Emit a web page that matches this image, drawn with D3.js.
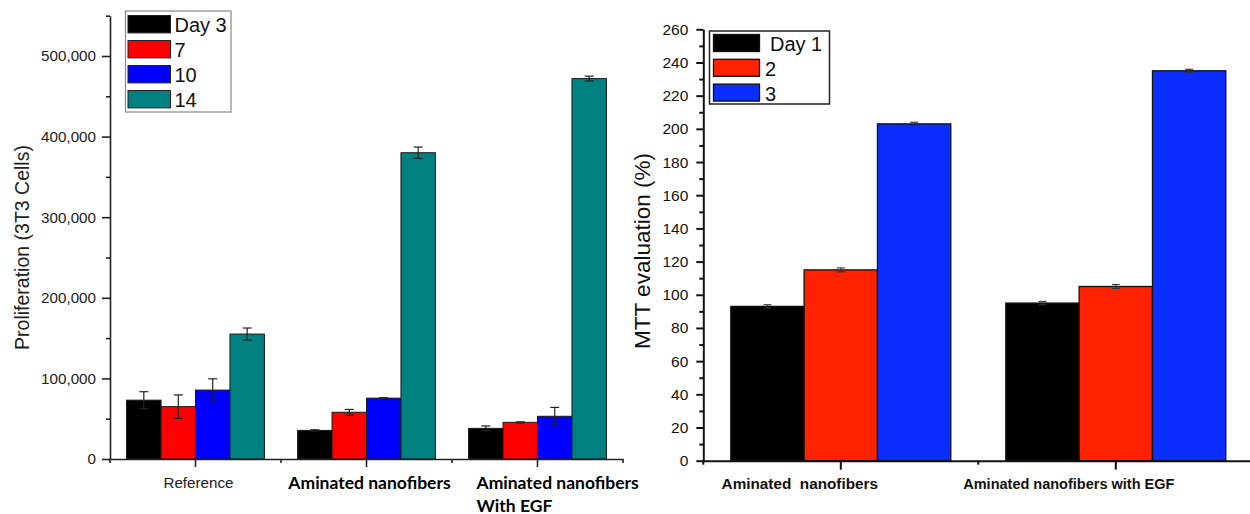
<!DOCTYPE html>
<html>
<head>
<meta charset="utf-8">
<script src="https://cdn.jsdelivr.net/npm/d3@7"></script>
<style>
  html, body { margin: 0; padding: 0; background: #fff; }
  svg { display: block; }
</style>
</head>
<body>
<svg id="chart" width="1250" height="514"></svg>
<script>
// ---------- Left chart data ----------
const leftCategories = ["Reference", "Aminated nanofibers", "Aminated nanofibers With EGF"];
const leftCategoryLines = [["Reference"], ["Aminated nanofibers"], ["Aminated nanofibers", "With EGF"]];
const leftSeries = ["Day 3", "7", "10", "14"];
const leftDay3 = [73000, 35500, 38000];
const leftDay7 = [65000, 58000, 45500];
const leftDay10 = [85500, 75500, 53000];
const leftDay14 = [155000, 380000, 472000];
const leftDay3Err = [10500, 800, 3000];
const leftDay7Err = [14500, 3500, 600];
const leftDay10Err = [14000, 600, 11000];
const leftDay14Err = [7500, 7000, 3000];
const leftYTicks = [0, 100000, 200000, 300000, 400000, 500000];
const leftYMinorTicks = [50000, 150000, 250000, 350000, 450000, 550000];

// ---------- Right chart data ----------
const rightCategories = ["Aminated  nanofibers", "Aminated nanofibers with EGF"];
const rightSeries = ["Day 1", "2", "3"];
const rightDay1 = [93, 95];
const rightDay2 = [115, 105];
const rightDay3 = [203, 235];
const rightDay1Err = [1, 1];
const rightDay2Err = [1.2, 1.2];
const rightDay3Err = [1, 0.9];
const rightYTicks = [0, 20, 40, 60, 80, 100, 120, 140, 160, 180, 200, 220, 240, 260];
const rightYMinorTicks = [10, 30, 50, 70, 90, 110, 130, 150, 170, 190, 210, 230, 250];

const svg = d3.select("#chart");
const tickFont = "'Liberation Sans', Arial, sans-serif";

// ======================= LEFT CHART =======================
(function () {
  const colors = ["#000000", "#ff0000", "#0000ff", "#008080"];
  const values = [leftDay3, leftDay7, leftDay10, leftDay14];
  const errs = [leftDay3Err, leftDay7Err, leftDay10Err, leftDay14Err];
  const x0 = 110, x1 = 623, yTop = 15.7, yBot = 459;

  const x = d3.scaleBand().domain(d3.range(leftCategories.length)).range([x0, x1]).padding(0);
  const groupW = x.bandwidth() * 0.806;
  const xs = d3.scaleBand().domain(d3.range(leftSeries.length)).range([0, groupW]).padding(0);
  const y = d3.scaleLinear().domain([0, 550000]).range([yBot, yTop]);

  const g = svg.append("g");

  // bars
  leftSeries.forEach((s, si) => {
    g.append("g").selectAll("rect").data(values[si]).join("rect")
      .attr("x", (d, i) => x(i) + (x.bandwidth() - groupW) / 2 + xs(si))
      .attr("y", d => y(d))
      .attr("width", xs.bandwidth())
      .attr("height", d => y(0) - y(d))
      .attr("fill", colors[si])
      .attr("stroke", "#1a1a1a")
      .attr("stroke-width", 1);
    // error bars
    const eg = g.append("g").attr("stroke", "#222").attr("stroke-width", 1.2);
    values[si].forEach((v, i) => {
      const cx = x(i) + (x.bandwidth() - groupW) / 2 + xs(si) + xs.bandwidth() / 2;
      const e = errs[si][i];
      eg.append("line").attr("x1", cx).attr("x2", cx).attr("y1", y(v + e)).attr("y2", y(v - e));
      eg.append("line").attr("x1", cx - 4.5).attr("x2", cx + 4.5).attr("y1", y(v + e)).attr("y2", y(v + e));
      eg.append("line").attr("x1", cx - 4.5).attr("x2", cx + 4.5).attr("y1", y(v - e)).attr("y2", y(v - e));
    });
  });

  // y axis
  const yAxis = g.append("g").attr("transform", `translate(${x0},0)`)
    .call(d3.axisLeft(y).tickValues(leftYTicks).tickFormat(d3.format(",")).tickSize(8).tickSizeOuter(0).tickPadding(6));
  g.append("g").attr("transform", `translate(${x0},0)`)
    .call(d3.axisLeft(y).tickValues(leftYMinorTicks).tickFormat("").tickSize(4).tickSizeOuter(0))
    .select(".domain").remove();
  g.selectAll(".domain, .tick line").attr("stroke", "#222").attr("stroke-width", 1.6);
  yAxis.selectAll("text").attr("font-family", tickFont).attr("font-size", 15.2).attr("fill", "#222");

  // x axis
  const xAxis = g.append("g").attr("transform", `translate(0,${yBot})`)
    .call(d3.axisBottom(x).tickFormat("").tickSize(8).tickSizeOuter(0));
  const bounds = d3.range(leftCategories.length + 1).map(i => i === leftCategories.length ? x1 : x(i));
  g.append("g").selectAll("line").data(bounds).join("line")
    .attr("x1", d => d).attr("x2", d => d).attr("y1", yBot).attr("y2", yBot + 4);
  g.selectAll(".domain, .tick line, line").filter(function () { return !this.closest("g[stroke]"); })
    .attr("stroke", "#222").attr("stroke-width", 1.6);

  // x labels
  leftCategoryLines.forEach((lines, i) => {
    const cx = x(i) + x.bandwidth() / 2;
    if (i === 0) {
      g.append("text").attr("x", cx + 3).attr("y", 488).attr("text-anchor", "middle")
        .attr("font-family", tickFont).attr("font-size", 15.2).attr("fill", "#222").text(lines[0]);
    } else if (i === 1) {
      g.append("text").attr("x", cx + 3).attr("y", 489).attr("text-anchor", "middle")
        .attr("font-family", "Lato, sans-serif").attr("font-weight", "bold").attr("font-size", 17.5)
        .attr("fill", "#000").text(lines[0]);
    } else {
      lines.forEach((ln, li) => {
        g.append("text").attr("x", 476.5).attr("y", 489 + li * 22.5).attr("text-anchor", "start")
          .attr("font-family", "Lato, sans-serif").attr("font-weight", "bold").attr("font-size", 17.5)
          .attr("fill", "#000").text(ln);
      });
    }
  });

  // y label
  g.append("text").attr("transform", "translate(28.5,247.5) rotate(-90)")
    .attr("text-anchor", "middle").attr("font-family", tickFont).attr("font-size", 19.5)
    .attr("fill", "#222").text("Proliferation (3T3 Cells)");

  // legend
  const lg = g.append("g");
  lg.append("rect").attr("x", 125.5).attr("y", 11).attr("width", 105.5).attr("height", 101)
    .attr("fill", "#fff").attr("stroke", "#888").attr("stroke-width", 1.2);
  leftSeries.forEach((s, si) => {
    const cy = 24.2 + si * 25;
    lg.append("rect").attr("x", 128).attr("y", cy - 8.7).attr("width", 42.5).attr("height", 17.4)
      .attr("fill", colors[si]).attr("stroke", "#222").attr("stroke-width", 1);
    lg.append("text").attr("x", 174.5).attr("y", cy + 8).attr("font-family", tickFont)
      .attr("font-size", 20).attr("fill", "#111").text(s);
  });
})();

// ======================= RIGHT CHART =======================
(function () {
  const colors = ["#000000", "#ff2200", "#0a2eff"];
  const values = [rightDay1, rightDay2, rightDay3];
  const errs = [rightDay1Err, rightDay2Err, rightDay3Err];
  const x0 = 703.3, yTop = 29.3, yBot = 460.7;
  const band = 275;

  const x = d3.scaleBand().domain(d3.range(rightCategories.length)).range([x0, x0 + band * rightCategories.length]).padding(0);
  const groupW = x.bandwidth() * 0.8;
  const xs = d3.scaleBand().domain(d3.range(rightSeries.length)).range([0, groupW]).padding(0);
  const y = d3.scaleLinear().domain([0, 260]).range([yBot, yTop]);

  const g = svg.append("g");

  rightSeries.forEach((s, si) => {
    g.append("g").selectAll("rect").data(values[si]).join("rect")
      .attr("x", (d, i) => x(i) + (x.bandwidth() - groupW) / 2 + xs(si))
      .attr("y", d => y(d))
      .attr("width", xs.bandwidth())
      .attr("height", d => y(0) - y(d))
      .attr("fill", colors[si])
      .attr("stroke", "#111")
      .attr("stroke-width", 1.3);
    const eg = g.append("g").attr("stroke", "#333").attr("stroke-width", 1.1);
    values[si].forEach((v, i) => {
      const cx = x(i) + (x.bandwidth() - groupW) / 2 + xs(si) + xs.bandwidth() / 2;
      const e = errs[si][i];
      eg.append("line").attr("x1", cx).attr("x2", cx).attr("y1", y(v + e)).attr("y2", y(v - e));
      eg.append("line").attr("x1", cx - 4).attr("x2", cx + 4).attr("y1", y(v + e)).attr("y2", y(v + e));
      eg.append("line").attr("x1", cx - 4).attr("x2", cx + 4).attr("y1", y(v - e)).attr("y2", y(v - e));
    });
  });

  const yAxis = g.append("g").attr("transform", `translate(${x0},0)`)
    .call(d3.axisLeft(y).tickValues(rightYTicks).tickSize(7).tickSizeOuter(0).tickPadding(8));
  g.append("g").attr("transform", `translate(${x0},0)`)
    .call(d3.axisLeft(y).tickValues(rightYMinorTicks).tickFormat("").tickSize(4).tickSizeOuter(0))
    .select(".domain").remove();
  yAxis.selectAll("text").attr("font-family", tickFont).attr("font-size", 15.5).attr("fill", "#111");

  g.append("g").attr("transform", `translate(0,${yBot})`)
    .call(d3.axisBottom(x).tickFormat("").tickSize(9).tickSizeOuter(0));
  const bounds = d3.range(rightCategories.length + 1).map(i => x0 + i * band);
  g.append("g").attr("class", "minor").selectAll("line").data(bounds).join("line")
    .attr("x1", d => d).attr("x2", d => d).attr("y1", yBot).attr("y2", yBot + 4);
  g.selectAll(".domain, .tick line, .minor line").attr("stroke", "#111").attr("stroke-width", 2);

  const labelShift = [-41, -47];
  rightCategories.forEach((c, i) => {
    g.append("text").attr("x", x(i) + x.bandwidth() / 2 + labelShift[i]).attr("y", 489)
      .attr("text-anchor", "middle").attr("font-family", tickFont).attr("font-weight", "bold")
      .attr("font-size", i === 0 ? 15.3 : 14.5).attr("fill", "#111")
      .attr("xml:space", "preserve").style("white-space", "pre").text(c);
  });

  g.append("text").attr("transform", "translate(649.5,251) rotate(-90)")
    .attr("text-anchor", "middle").attr("font-family", tickFont).attr("font-size", 22.5)
    .attr("fill", "#111").text("MTT evaluation (%)");

  const lg = g.append("g");
  lg.append("rect").attr("x", 709.5).attr("y", 31).attr("width", 120).attr("height", 73)
    .attr("fill", "#fff").attr("stroke", "#222").attr("stroke-width", 1.5);
  rightSeries.forEach((s, si) => {
    const cy = 43 + si * 24.8;
    lg.append("rect").attr("x", 713.5).attr("y", cy - 8.5).attr("width", 46).attr("height", 17)
      .attr("fill", colors[si]).attr("stroke", "#111").attr("stroke-width", 1.3);
    lg.append("text").attr("x", si === 0 ? 770 : 765).attr("y", cy + 8).attr("font-family", tickFont)
      .attr("font-size", 20).attr("fill", "#111").text(s);
  });
})();
</script>
</body>
</html>
